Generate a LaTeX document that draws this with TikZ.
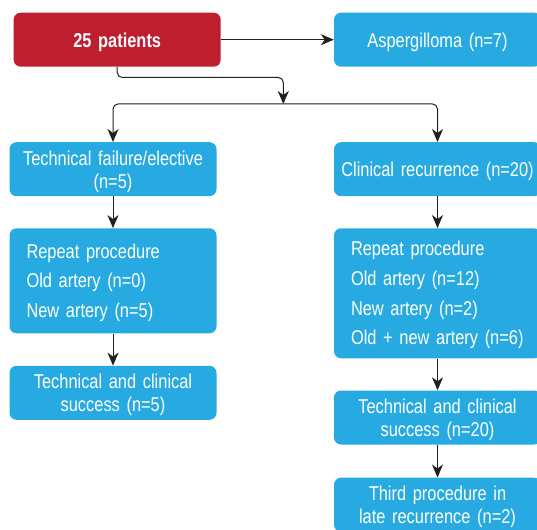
\documentclass[tikz,border=0pt]{standalone}
\usepackage{fontspec}
\setmainfont{Liberation Sans}[FakeStretch=0.82]
\usetikzlibrary{positioning, arrows.meta}
\definecolor{boxblue}{HTML}{27AAE1}
\definecolor{boxred}{HTML}{BE1E2D}
\definecolor{linegray}{HTML}{231F20}

\begin{document}
\begin{tikzpicture}[x=1pt, y=-1pt,
  base/.style={fill=boxblue, rounded corners=7pt, text=white, minimum width=207pt, minimum height=54pt},
  box/.style={base, text width=195pt, inner xsep=6pt, align=center, text height=19pt, font=\fontsize{20}{23}\selectfont},
  listbox/.style={base, text width=173pt, inner xsep=17pt, align=left, text height=18pt, font=\fontsize{20}{29.6}\selectfont},
  startbox/.style={box, fill=boxred, font=\bfseries\fontsize{20}{23}\selectfont},
  link/.style={draw=linegray, line width=1pt, -{Stealth[length=13pt, width=11pt, inset=4pt, sharp]}},
  elbow/.style={link, rounded corners=5pt}]
\useasboundingbox (0,0) rectangle (537,529);
\node[startbox] (pat) at (117.2,39.7) {25 patients};
\node[box] (asp) at (437.5,39.7) {Aspergilloma (n=7)};
\node[box] (tech) at (113,169.2) {Technical failure/elective\\(n=5)};
\node[box] (clin) at (437.5,169.2) {Clinical recurrence (n=20)};
\node[listbox, minimum height=105pt] (rep1) at (113,280.8) {Repeat procedure\\Old artery (n=0)\\New artery (n=5)};
\node[listbox, minimum height=130pt] (rep2) at (437.5,293.3) {Repeat procedure\\Old artery (n=12)\\New artery (n=2)\\Old + new artery (n=6)};
\node[box] (succ1) at (113,392.8) {Technical and clinical\\success (n=5)};
\node[box] (succ2) at (437.5,417.5) {Technical and clinical\\success (n=20)};
\node[box] (third) at (437.5,504.7) {Third procedure in\\late recurrence (n=2)};
\coordinate (split) at (283.3,104);
\draw[link] (pat) -- (asp);
\draw[elbow] (pat.south) -- ++(0,10.6) -| (split);
\draw[elbow] (split) -| (tech.north);
\draw[elbow] (split) -| (clin.north);
\draw[link] (tech) -- (rep1);
\draw[link] (rep1) -- (succ1);
\draw[link] (clin) -- (rep2);
\draw[link] (rep2) -- (succ2);
\draw[link] (succ2) -- (third);
\end{tikzpicture}
\end{document}
